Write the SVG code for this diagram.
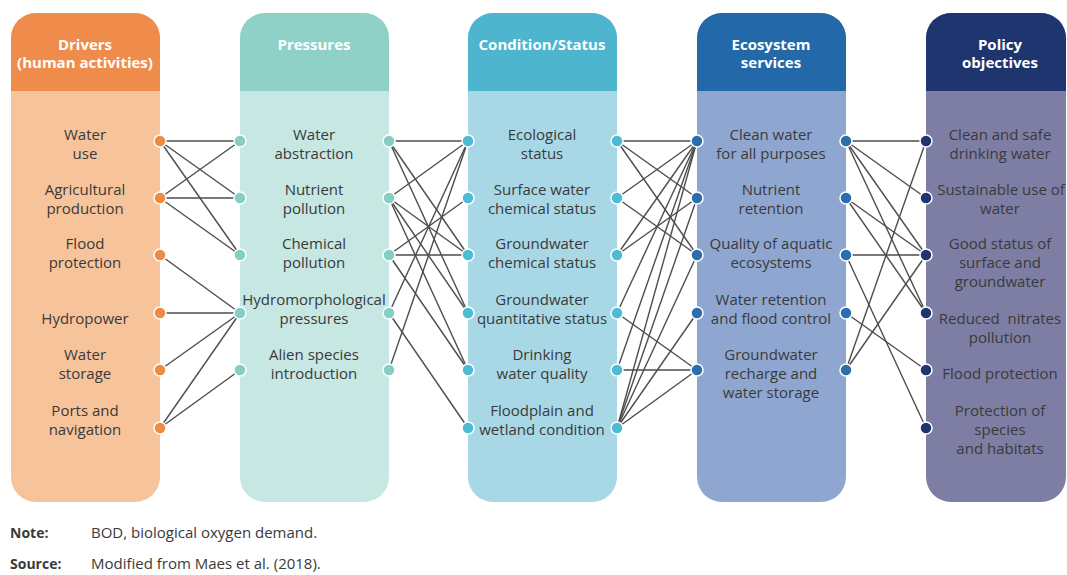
<svg xmlns="http://www.w3.org/2000/svg" width="1067" height="575" viewBox="0 0 1067 575">
<style>
.hd{font-family:"Open Sans","Noto Sans",sans-serif;font-weight:bold;font-size:15px;fill:#fff;text-anchor:middle}
.lb{font-family:"Open Sans","Noto Sans",sans-serif;font-size:15px;fill:#3a3a3a;text-anchor:middle}
.nt{font-family:"Open Sans","Noto Sans",sans-serif;font-size:15px;fill:#3a3a3a}
.ntb{font-family:"Open Sans","Noto Sans",sans-serif;font-size:14px;font-weight:bold;fill:#3a3a3a}
.ln line{stroke:#4d4d4d;stroke-width:1.4}
.dot{stroke:#fff;stroke-width:1.5}
.d1{fill:#ee8a43}.d2{fill:#83cec5}.d3{fill:#4cbcd4}.d4{fill:#2a6eae}.d5{fill:#213472}
</style>
<rect width="1067" height="575" fill="#fff"/>
<g id="col-drivers">
<rect x="11" y="13" width="149" height="489" rx="25" fill="#f7c39b"/>
<path d="M11,91V38A25,25 0 0 1 36,13H135A25,25 0 0 1 160,38V91Z" fill="#ef8c4b"/>
<text class="hd" x="85" y="50">Drivers</text>
<text class="hd" x="85" y="68">(human activities)</text>
</g>
<g id="col-pressures">
<rect x="240" y="13" width="149" height="489" rx="25" fill="#c6e7e2"/>
<path d="M240,91V38A25,25 0 0 1 265,13H364A25,25 0 0 1 389,38V91Z" fill="#8fd0c7"/>
<text class="hd" x="314" y="50">Pressures</text>
</g>
<g id="col-condition">
<rect x="468" y="13" width="149" height="489" rx="25" fill="#a8d8e6"/>
<path d="M468,91V38A25,25 0 0 1 493,13H592A25,25 0 0 1 617,38V91Z" fill="#4db5ce"/>
<text class="hd" x="542" y="50">Condition/Status</text>
</g>
<g id="col-services">
<rect x="697" y="13" width="149" height="489" rx="25" fill="#8fa7d0"/>
<path d="M697,91V38A25,25 0 0 1 722,13H821A25,25 0 0 1 846,38V91Z" fill="#2368a9"/>
<text class="hd" x="771" y="50">Ecosystem</text>
<text class="hd" x="771" y="68">services</text>
</g>
<g id="col-policy">
<rect x="926" y="13" width="140" height="489" rx="25" fill="#7e7ea4"/>
<path d="M926,91V38A25,25 0 0 1 951,13H1041A25,25 0 0 1 1066,38V91Z" fill="#1f356f"/>
<text class="hd" x="1000" y="50">Policy</text>
<text class="hd" x="1000" y="68">objectives</text>
</g>
<g id="connectors" class="ln">
<line x1="160" y1="141" x2="240" y2="141"/><line x1="160" y1="141" x2="240" y2="198"/><line x1="160" y1="141" x2="240" y2="255"/>
<line x1="160" y1="198" x2="240" y2="141"/><line x1="160" y1="198" x2="240" y2="198"/><line x1="160" y1="198" x2="240" y2="255"/>
<line x1="160" y1="255" x2="240" y2="313"/><line x1="160" y1="313" x2="240" y2="313"/><line x1="160" y1="370" x2="240" y2="313"/>
<line x1="160" y1="428" x2="240" y2="313"/><line x1="160" y1="428" x2="240" y2="370"/>
<line x1="389" y1="141" x2="468" y2="141"/><line x1="389" y1="141" x2="468" y2="255"/><line x1="389" y1="141" x2="468" y2="313"/>
<line x1="389" y1="198" x2="468" y2="141"/><line x1="389" y1="198" x2="468" y2="255"/><line x1="389" y1="198" x2="468" y2="313"/><line x1="389" y1="198" x2="468" y2="370"/>
<line x1="389" y1="255" x2="468" y2="198"/><line x1="389" y1="255" x2="468" y2="255"/><line x1="389" y1="255" x2="468" y2="370"/>
<line x1="389" y1="313" x2="468" y2="141"/><line x1="389" y1="313" x2="468" y2="428"/><line x1="389" y1="370" x2="468" y2="141"/>
<line x1="617" y1="141" x2="697" y2="141"/><line x1="617" y1="141" x2="697" y2="198"/><line x1="617" y1="141" x2="697" y2="255"/>
<line x1="617" y1="198" x2="697" y2="141"/><line x1="617" y1="198" x2="697" y2="255"/>
<line x1="617" y1="255" x2="697" y2="141"/><line x1="617" y1="255" x2="697" y2="198"/>
<line x1="617" y1="313" x2="697" y2="141"/><line x1="617" y1="313" x2="697" y2="370"/>
<line x1="617" y1="370" x2="697" y2="141"/><line x1="617" y1="370" x2="697" y2="370"/>
<line x1="617" y1="428" x2="697" y2="141"/><line x1="617" y1="428" x2="697" y2="198"/><line x1="617" y1="428" x2="697" y2="255"/><line x1="617" y1="428" x2="697" y2="313"/><line x1="617" y1="428" x2="697" y2="370"/>
<line x1="846" y1="141" x2="926" y2="141"/><line x1="846" y1="141" x2="926" y2="198"/><line x1="846" y1="141" x2="926" y2="255"/><line x1="846" y1="141" x2="926" y2="313"/>
<line x1="846" y1="198" x2="926" y2="255"/><line x1="846" y1="198" x2="926" y2="313"/>
<line x1="846" y1="255" x2="926" y2="255"/><line x1="846" y1="255" x2="926" y2="428"/>
<line x1="846" y1="313" x2="926" y2="370"/>
<line x1="846" y1="370" x2="926" y2="141"/><line x1="846" y1="370" x2="926" y2="255"/>
</g>
<g id="n-drivers">
<g id="d-water-use"><circle class="dot d1" cx="160" cy="141" r="6"/><text class="lb" x="85" y="140">Water</text><text class="lb" x="85" y="159">use</text></g>
<g id="d-agri"><circle class="dot d1" cx="160" cy="198" r="6"/><text class="lb" x="85" y="195">Agricultural</text><text class="lb" x="85" y="214">production</text></g>
<g id="d-flood"><circle class="dot d1" cx="160" cy="255" r="6"/><text class="lb" x="85" y="249">Flood</text><text class="lb" x="85" y="268">protection</text></g>
<g id="d-hydro"><circle class="dot d1" cx="160" cy="313" r="6"/><text class="lb" x="85" y="324">Hydropower</text></g>
<g id="d-storage"><circle class="dot d1" cx="160" cy="370" r="6"/><text class="lb" x="85" y="360">Water</text><text class="lb" x="85" y="379">storage</text></g>
<g id="d-ports"><circle class="dot d1" cx="160" cy="428" r="6"/><text class="lb" x="85" y="416">Ports and</text><text class="lb" x="85" y="435">navigation</text></g>
</g>
<g id="n-pressures">
<g id="p-abstr"><circle class="dot d2" cx="240" cy="141" r="6"/><circle class="dot d2" cx="389" cy="141" r="6"/><text class="lb" x="314" y="140">Water</text><text class="lb" x="314" y="159">abstraction</text></g>
<g id="p-nutr"><circle class="dot d2" cx="240" cy="198" r="6"/><circle class="dot d2" cx="389" cy="198" r="6"/><text class="lb" x="314" y="195">Nutrient</text><text class="lb" x="314" y="214">pollution</text></g>
<g id="p-chem"><circle class="dot d2" cx="240" cy="255" r="6"/><circle class="dot d2" cx="389" cy="255" r="6"/><text class="lb" x="314" y="249">Chemical</text><text class="lb" x="314" y="268">pollution</text></g>
<g id="p-hydro"><circle class="dot d2" cx="240" cy="313" r="6"/><circle class="dot d2" cx="389" cy="313" r="6"/><text class="lb" x="314" y="305">Hydromorphological</text><text class="lb" x="314" y="324">pressures</text></g>
<g id="p-alien"><circle class="dot d2" cx="240" cy="370" r="6"/><circle class="dot d2" cx="389" cy="370" r="6"/><text class="lb" x="314" y="360">Alien species</text><text class="lb" x="314" y="379">introduction</text></g>
</g>
<g id="n-condition">
<g id="c-eco"><circle class="dot d3" cx="468" cy="141" r="6"/><circle class="dot d3" cx="617" cy="141" r="6"/><text class="lb" x="542" y="140">Ecological</text><text class="lb" x="542" y="159">status</text></g>
<g id="c-swchem"><circle class="dot d3" cx="468" cy="198" r="6"/><circle class="dot d3" cx="617" cy="198" r="6"/><text class="lb" x="542" y="195">Surface water</text><text class="lb" x="542" y="214">chemical status</text></g>
<g id="c-gwchem"><circle class="dot d3" cx="468" cy="255" r="6"/><circle class="dot d3" cx="617" cy="255" r="6"/><text class="lb" x="542" y="249">Groundwater</text><text class="lb" x="542" y="268">chemical status</text></g>
<g id="c-gwquant"><circle class="dot d3" cx="468" cy="313" r="6"/><circle class="dot d3" cx="617" cy="313" r="6"/><text class="lb" x="542" y="305">Groundwater</text><text class="lb" x="542" y="324">quantitative status</text></g>
<g id="c-drink"><circle class="dot d3" cx="468" cy="370" r="6"/><circle class="dot d3" cx="617" cy="370" r="6"/><text class="lb" x="542" y="360">Drinking</text><text class="lb" x="542" y="379">water quality</text></g>
<g id="c-flood"><circle class="dot d3" cx="468" cy="428" r="6"/><circle class="dot d3" cx="617" cy="428" r="6"/><text class="lb" x="542" y="416">Floodplain and</text><text class="lb" x="542" y="435">wetland condition</text></g>
</g>
<g id="n-services">
<g id="e-clean"><circle class="dot d4" cx="697" cy="141" r="6"/><circle class="dot d4" cx="846" cy="141" r="6"/><text class="lb" x="771" y="140">Clean water</text><text class="lb" x="771" y="159">for all purposes</text></g>
<g id="e-nutr"><circle class="dot d4" cx="697" cy="198" r="6"/><circle class="dot d4" cx="846" cy="198" r="6"/><text class="lb" x="771" y="195">Nutrient</text><text class="lb" x="771" y="214">retention</text></g>
<g id="e-qual"><circle class="dot d4" cx="697" cy="255" r="6"/><circle class="dot d4" cx="846" cy="255" r="6"/><text class="lb" x="771" y="249">Quality of aquatic</text><text class="lb" x="771" y="268">ecosystems</text></g>
<g id="e-ret"><circle class="dot d4" cx="697" cy="313" r="6"/><circle class="dot d4" cx="846" cy="313" r="6"/><text class="lb" x="771" y="305">Water retention</text><text class="lb" x="771" y="324">and flood control</text></g>
<g id="e-gw"><circle class="dot d4" cx="697" cy="370" r="6"/><circle class="dot d4" cx="846" cy="370" r="6"/><text class="lb" x="771" y="360">Groundwater</text><text class="lb" x="771" y="379">recharge and</text><text class="lb" x="771" y="398">water storage</text></g>
</g>
<g id="n-policy">
<g id="o-drink"><circle class="dot d5" cx="926" cy="141" r="6"/><text class="lb" x="1000" y="140">Clean and safe</text><text class="lb" x="1000" y="159">drinking water</text></g>
<g id="o-sust"><circle class="dot d5" cx="926" cy="198" r="6"/><text class="lb" x="1001" y="195">Sustainable use of</text><text class="lb" x="1000" y="214">water</text></g>
<g id="o-good"><circle class="dot d5" cx="926" cy="255" r="6"/><text class="lb" x="1000" y="249">Good status of</text><text class="lb" x="1000" y="268">surface and</text><text class="lb" x="1000" y="287">groundwater</text></g>
<g id="o-nitr"><circle class="dot d5" cx="926" cy="313" r="6"/><text class="lb" x="1000" y="324" xml:space="preserve">Reduced  nitrates</text><text class="lb" x="1000" y="343">pollution</text></g>
<g id="o-flood"><circle class="dot d5" cx="926" cy="370" r="6"/><text class="lb" x="1000" y="379">Flood protection</text></g>
<g id="o-prot"><circle class="dot d5" cx="926" cy="428" r="6"/><text class="lb" x="1000" y="416">Protection of</text><text class="lb" x="1000" y="435">species</text><text class="lb" x="1000" y="454">and habitats</text></g>
</g>
<g id="notes">
<text class="ntb" x="10" y="538">Note:</text><text class="nt" x="91" y="538">BOD, biological oxygen demand.</text>
<text class="ntb" x="10" y="569">Source:</text><text class="nt" x="91" y="569">Modified from Maes et al. (2018).</text>
</g>
</svg>
